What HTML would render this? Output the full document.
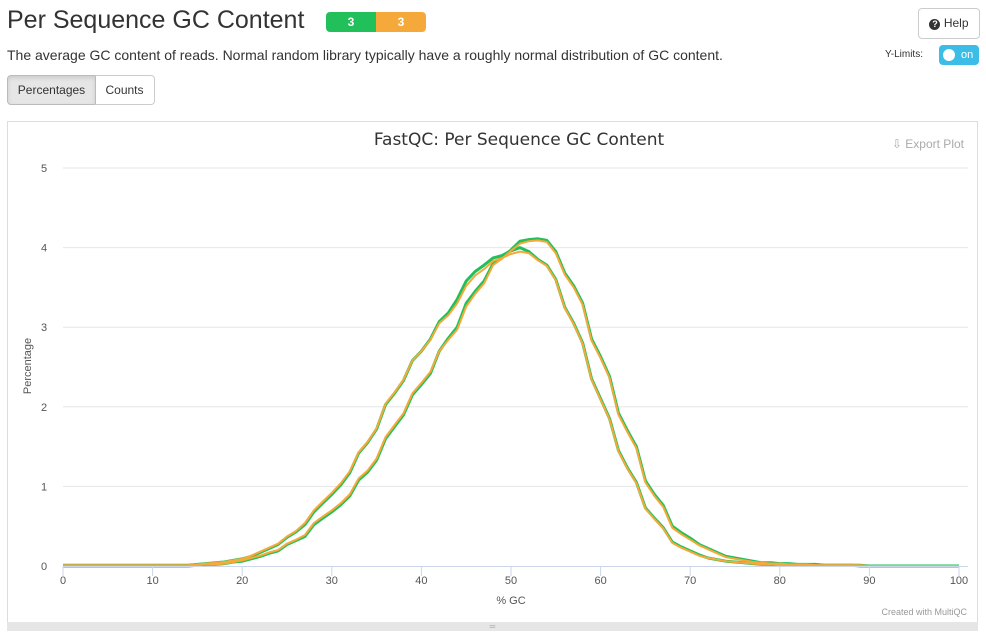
<!DOCTYPE html>
<html><head><meta charset="utf-8"><style>
body{margin:0;width:986px;height:637px;background:#fff;font-family:"Liberation Sans",Helvetica,Arial,sans-serif;color:#333;position:relative;overflow:hidden}
.abs{position:absolute}
</style></head><body>
<div class="abs" style="left:7px;top:6px;font-size:25px;letter-spacing:0px">Per Sequence GC Content</div>
<div class="abs" style="left:326px;top:12px;width:100px;height:20px;border-radius:4px;overflow:hidden;display:flex;font-size:12px;font-weight:bold;color:#fff">
<div style="width:50px;background:#22c05a;text-align:center;line-height:20px">3</div>
<div style="width:50px;background:#f6a93b;text-align:center;line-height:20px">3</div></div>
<div class="abs" style="left:918px;top:8px;width:60px;height:29px;border:1px solid #ccc;border-radius:4px;font-size:12px;line-height:29px;text-align:center;color:#333"><span style="display:inline-block;width:11px;height:11px;border-radius:50%;background:#333;color:#fff;font-size:9px;line-height:11px;font-weight:bold">?</span> Help</div>
<div class="abs" style="left:7px;top:47px;font-size:14px">The average GC content of reads. Normal random library typically have a roughly normal distribution of GC content.</div>
<div class="abs" style="left:885px;top:49px;font-size:10px">Y-Limits:</div>
<div class="abs" style="left:939px;top:45px;width:40px;height:20px;background:#3bbde8;border-radius:4px;color:#fff;font-size:11px"><span style="position:absolute;left:4px;top:4px;width:12px;height:12px;border-radius:50%;background:#fff"></span><span style="position:absolute;left:22px;top:4px">on</span></div>
<div class="abs" style="left:7px;top:75px;width:87px;height:28px;border:1px solid #bbb;border-radius:4px 0 0 4px;background:#e6e6e6;box-shadow:inset 0 2px 4px rgba(0,0,0,.12);font-size:12px;line-height:28px;text-align:center">Percentages</div>
<div class="abs" style="left:95px;top:75px;width:59px;height:28px;border:1px solid #ccc;border-left:none;border-radius:0 4px 4px 0;font-size:12px;line-height:28px;text-align:center">Counts</div>
<div class="abs" style="left:7px;top:121px;width:971px;height:510px;border:1px solid #ddd;box-sizing:border-box"></div>
<div class="abs" style="left:7px;top:622px;width:971px;height:9px;background:#e6e6e6;text-align:center;font-size:8px;line-height:9px;color:#999">═</div>
<svg class="abs" style="left:0;top:0" width="986" height="637">
<g id="grid"></g><g id="series"></g><g id="axes"></g>
<text x="519" y="145" text-anchor="middle" font-size="17" fill="#333" font-family="DejaVu Sans, sans-serif">FastQC: Per Sequence GC Content</text>
<text x="964" y="148" text-anchor="end" font-size="12" fill="#aaa">⇩ Export Plot</text>
<text transform="translate(31,366) rotate(-90)" text-anchor="middle" font-size="11" fill="#555">Percentage</text>
<text x="511" y="604" text-anchor="middle" font-size="11" fill="#555">% GC</text>
<text x="967" y="615" text-anchor="end" font-size="9" fill="#999">Created with MultiQC</text>
</svg>
<script>
const xTicks=[0,10,20,30,40,50,60,70,80,90,100];
const yTicks=[0,1,2,3,4,5];
const gcLeft=[0.01,0.01,0.01,0.01,0.01,0.01,0.01,0.01,0.01,0.01,0.01,0.01,0.01,0.01,0.01,0.02,0.03,0.04,0.05,0.07,0.09,0.12,0.17,0.22,0.27,0.36,0.43,0.52,0.68,0.79,0.9,1.02,1.17,1.42,1.55,1.72,2.03,2.17,2.33,2.58,2.7,2.85,3.07,3.18,3.35,3.58,3.7,3.78,3.87,3.9,3.96,4.0,3.95,3.85,3.78,3.6,3.25,3.05,2.8,2.35,2.1,1.85,1.45,1.23,1.05,0.73,0.6,0.48,0.3,0.24,0.19,0.14,0.1,0.08,0.06,0.05,0.04,0.03,0.02,0.02,0.01,0.01,0.01,0.01,0.01,0.01,0.01,0.01,0.01,0,0,0,0,0,0,0,0,0,0,0,0];
const gcLeftOrange=[0.01,0.01,0.01,0.01,0.01,0.01,0.01,0.01,0.01,0.01,0.01,0.01,0.01,0.01,0.01,0.02,0.03,0.04,0.05,0.07,0.09,0.13,0.18,0.23,0.28,0.37,0.44,0.54,0.7,0.81,0.92,1.04,1.19,1.43,1.56,1.73,2.04,2.18,2.34,2.58,2.7,2.84,3.05,3.15,3.3,3.52,3.65,3.73,3.83,3.87,3.92,3.95,3.93,3.84,3.77,3.59,3.24,3.04,2.79,2.34,2.09,1.84,1.44,1.22,1.04,0.72,0.59,0.47,0.29,0.23,0.18,0.13,0.1,0.08,0.06,0.05,0.04,0.03,0.02,0.02,0.01,0.01,0.01,0.01,0.01,0.01,0.01,0.01,0.01,0,0,0,0,0,0,0,0,0,0,0,0];
const gcRight=[0,0,0,0,0,0,0,0,0,0,0,0,0,0,0,0.01,0.02,0.02,0.03,0.05,0.06,0.09,0.12,0.16,0.19,0.27,0.32,0.37,0.52,0.6,0.68,0.77,0.88,1.08,1.18,1.33,1.6,1.75,1.9,2.15,2.28,2.42,2.7,2.86,3.0,3.3,3.45,3.58,3.8,3.88,3.97,4.08,4.1,4.11,4.09,3.95,3.68,3.52,3.3,2.85,2.63,2.38,1.92,1.7,1.5,1.07,0.9,0.76,0.5,0.42,0.35,0.27,0.22,0.17,0.12,0.1,0.08,0.06,0.04,0.04,0.03,0.03,0.02,0.02,0.02,0.01,0.01,0.01,0.01,0.01,0,0,0,0,0,0,0,0,0,0,0];
const gcRightOrange=[0,0,0,0,0,0,0,0,0,0,0,0,0,0,0,0.01,0.02,0.02,0.03,0.05,0.07,0.1,0.13,0.17,0.2,0.28,0.33,0.39,0.54,0.62,0.7,0.79,0.9,1.1,1.2,1.35,1.62,1.77,1.92,2.17,2.3,2.44,2.7,2.84,2.97,3.26,3.42,3.55,3.78,3.86,3.96,4.05,4.08,4.09,4.07,3.93,3.66,3.5,3.28,2.83,2.61,2.36,1.9,1.68,1.48,1.05,0.88,0.74,0.48,0.4,0.33,0.26,0.21,0.16,0.11,0.09,0.07,0.05,0.04,0.03,0.03,0.02,0.02,0.02,0.01,0.01,0.01,0.01,0.01,0.01,0,0,0,0,0,0,0,0,0,0,0];
const NS='http://www.w3.org/2000/svg';
const X=v=>63+v*8.96, Y=v=>566-v*79.6;
const grid=document.getElementById('grid'),axes=document.getElementById('axes'),ser=document.getElementById('series');
function mk(tag,attrs,parent){const e=document.createElementNS(NS,tag);for(const k in attrs)e.setAttribute(k,attrs[k]);parent.appendChild(e);return e;}
yTicks.forEach(t=>{
 if(t>0){const l=mk('line',{x1:63,x2:968,y1:Y(t),y2:Y(t),stroke:'#e6e6e6'},grid);
 
 }
 const tx=mk('text',{x:44,y:Y(t)+4,'font-size':11,fill:'#555','text-anchor':'middle'},axes);tx.textContent=t;
 
 
});
const xl=mk('line',{x1:63,x2:968,y1:566.5,y2:566.5,stroke:'#ccd6eb'},axes);


xTicks.forEach(t=>{
 const tk=mk('line',{x1:X(t),x2:X(t),y1:566,y2:576,stroke:'#ccd6eb'},axes);
 
 
 const tx=mk('text',{x:X(t),y:584,'font-size':11,fill:'#555','text-anchor':'middle'},axes);tx.textContent=t;
 
 
});
function draw(arr,color,w,name){
 const d=arr.map((v,i)=>(i?'L':'M')+X(i).toFixed(1)+','+Y(v).toFixed(1)).join('');
 const p=mk('path',{d:d,fill:'none',stroke:color,'stroke-width':w,'stroke-linejoin':'round'},ser);
 
 
}
draw(gcLeft,'#22c05a',3,'series-left-green');
draw(gcRight,'#22c05a',3,'series-right-green');
draw(gcLeftOrange,'#f6a93b',2,'series-left-orange');
draw(gcRightOrange,'#f6a93b',2,'series-right-orange');
</script>
</body></html>
